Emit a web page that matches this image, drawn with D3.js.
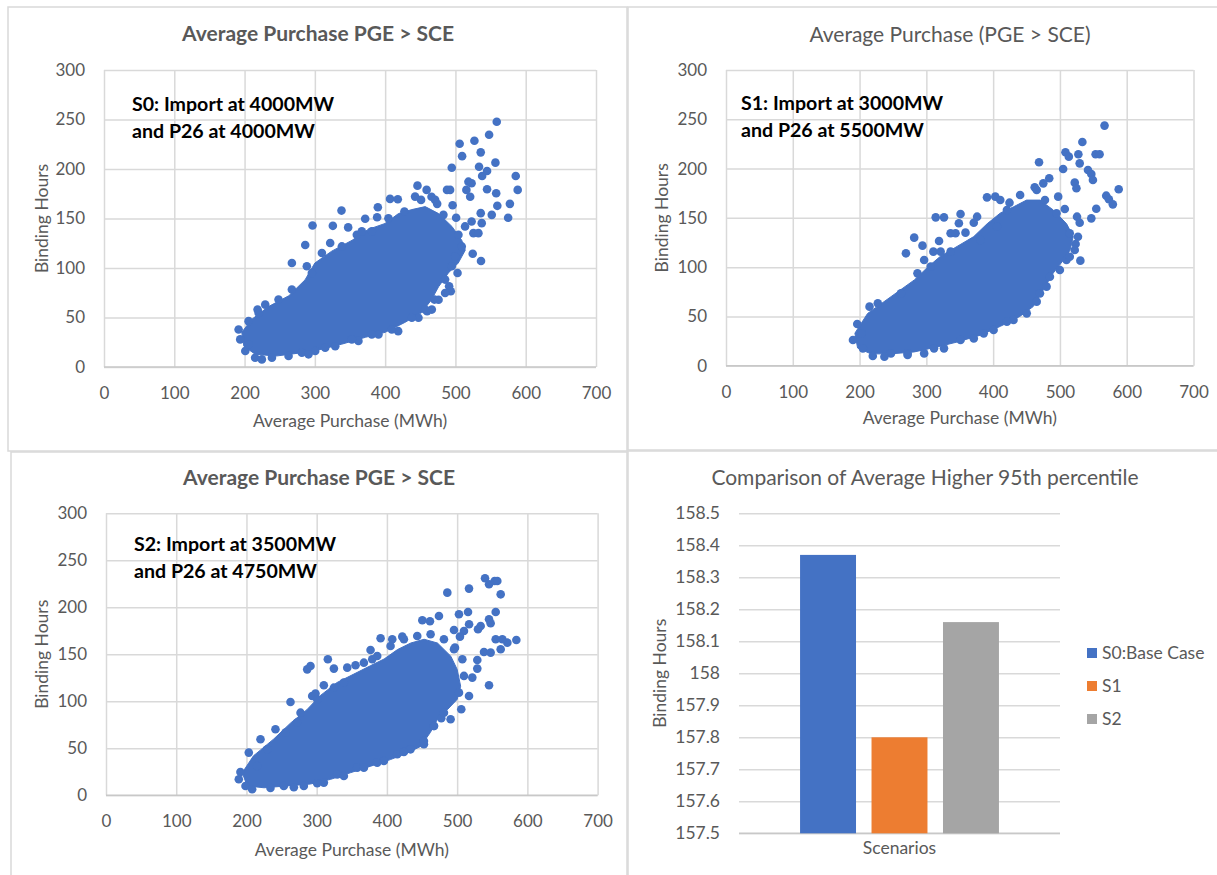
<!DOCTYPE html>
<html>
<head>
<meta charset="utf-8">
<script src="https://cdn.jsdelivr.net/npm/d3@7"></script>
<style>
  body { margin: 0; background: #fff; }
  text { font-family: Lato, "Open Sans", sans-serif; }
</style>
</head>
<body>
<svg id="chart" width="1217" height="875"></svg>
<script>
// ---- data ----
const xTicks = [0, 100, 200, 300, 400, 500, 600, 700];
const yTicks = [0, 50, 100, 150, 200, 250, 300];

// dense core of each scatter (outline of the solid blob), [purchase, hours]
const s0Cloud = [[196,35],[210,48],[234,61],[263,72],[286,88],[300,105],[324,117],[353,128],[376,139],[400,145],[419,155],[438,159],[457,162],[476,155],[495,142],[509,128],[514,118],[504,105],[490,95],[476,81],[466,68],[452,55],[428,45],[400,35],[372,30],[338,23],[310,18],[277,14],[244,11],[215,13],[199,21]];
const s1Cloud = [[193,33],[212,53],[247,70],[282,87],[302,100],[321,111],[346,121],[371,131],[391,144],[411,155],[430,161],[450,168],[470,168],[490,158],[510,144],[520,131],[515,117],[505,107],[490,94],[475,77],[460,60],[440,50],[411,40],[381,31],[346,24],[316,19],[282,14],[247,12],[217,12],[197,18]];
const s2Cloud = [[194,24],[210,42],[239,60],[263,77],[286,91],[305,106],[329,120],[353,129],[377,138],[396,145],[415,155],[434,162],[453,166],[472,162],[491,148],[500,134],[505,116],[500,102],[486,91],[472,81],[462,67],[448,52],[429,45],[405,38],[377,31],[348,24],[320,17],[291,12],[258,10],[225,8],[201,10]];

// single visible points around the core
const s0Points = [[558.8,247.7],[547.9,234.6],[527,228.5],[506,225.5],[509.5,213],[536,216.8],[494.8,201.3],[533.6,202.3],[538,193],[545,198],[556.9,206.4],[585.8,193],[588.6,178.9],[518.5,187.2],[523,185.6],[515.6,178.9],[521,172],[545,179.5],[558,175.5],[559.6,162.8],[577.5,164.8],[575,150.7],[488,178.9],[492.4,178.9],[496,163.4],[501,150.7],[446,183.2],[459,178.9],[466,172],[474,164.8],[407,169.8],[418,169.5],[389.6,161.4],[337.9,158],[371.6,149.7],[388.6,151.3],[296.7,143],[325.6,142.6],[347.4,141],[286.3,123.2],[267.3,105],[523,147],[537.4,145.3],[551.7,153.7],[536,155.4],[513.7,142],[525.6,135.2],[532.7,135.2],[524.6,114.4],[536.4,107],[503,95],[491,81.5],[493.4,76.5],[476,68],[459.7,56.4],[418.5,36.2],[191.5,37.9],[193.8,27.9],[205.7,46.3],[218.5,58],[229.4,63],[201,16.1],[215,9.4],[238.9,9.4],[281.5,14.4],[300.5,16.1],[329,21],[362,26.2],[390.5,32.9],[447.4,49.7],[466.4,58],[485.3,74.8],[310,115.1],[321.8,125.2],[338.4,121.8],[359.7,133.6],[366.8,137],[381,137],[404.7,150.3],[427.4,157],[451.1,168.8],[442.6,172.1],[471.1,168.8],[482.9,153.7],[504.3,133.6],[509,121.8],[499.5,111.7],[494.8,101.7],[485.3,88.3],[470.1,68.1],[456.9,58],[438,49.7],[409.5,37.9],[381,32.9],[352.6,27.9],[314.7,19.5],[291,12.8],[262.6,11.1],[224.6,7.7],[205.7,22.8],[219.9,54.7],[248.3,68.1],[267.3,78.2],[288.6,101.7],[295.7,95]];
const s1Points = [[566.8,243.6],[533.6,227],[508.3,216.5],[513.3,212.1],[527.6,214.5],[553.4,214.5],[559.4,214.5],[468.7,206.4],[529.6,205.3],[504.8,199.6],[542,198.6],[547,194.5],[549.4,188.4],[522.2,185.7],[524.7,180],[588,179],[569.3,172.5],[573.3,168.8],[579.2,163.7],[554.4,159.3],[484,190.1],[475.1,185],[462.2,181],[497.4,171.5],[507.3,159],[525.6,151.2],[547,149.5],[529.6,145.1],[527,130.9],[523.5,123.5],[530.6,106.6],[390.8,170.8],[403.2,171.5],[410.7,168.1],[424.5,165.4],[314,150.5],[326.4,150.5],[351.2,153.9],[376,151.2],[348.7,144.5],[371,145.1],[281.8,129.9],[294.2,121.8],[319,126.5],[336.3,134.3],[343.7,134.3],[358.6,135],[269.4,114],[310.5,115.7],[321.4,115.7],[190.1,26],[196.5,42.3],[214.9,59.9],[219.8,9.8],[205,17.6],[247,12.5],[271.9,12.5],[296.7,12.5],[326.4,17.6],[371,27.7],[400.7,36.2],[430.5,46.3],[450.3,53.1],[470.1,73.4],[485,90.3],[509.8,107.2],[306.6,100.5],[336.3,115.7],[380.9,127.5],[405.7,141.1],[420.6,158],[440.4,173.2],[465.2,178.3],[477.6,168.1],[494.9,154.6],[514.7,134.3],[522.2,117.4],[514.7,110.6],[499.9,97.1],[480,80.2],[465.2,65],[420.6,44.7],[385.9,32.8],[351.2,26],[311.5,17.6],[271.9,10.8],[237.2,9.1],[202.5,32.8],[227.3,63.3],[262,73.4],[286.7,93.7],[296.7,107.2]];
const s2Points = [[539.7,230.9],[545.4,224.5],[553.4,228],[557.2,228],[562,213.8],[486,215.6],[516.9,219.9],[554.9,195],[545.4,187.2],[547.7,183],[533.5,180.1],[529.7,176.6],[515.5,195],[517,182],[502.6,192.6],[474.1,190.8],[450.4,186.2],[461.3,185.1],[495.5,175.9],[509.7,174.8],[504,168.8],[584.3,165.2],[571.5,162.4],[564.4,166],[554.9,166],[538.2,152.5],[547.7,151.8],[562,155.3],[496.9,157.1],[528.7,144],[528.7,134.8],[545.4,117],[521.6,125.2],[516.9,105.7],[505.9,91.5],[490.7,80.9],[477.4,81.9],[391,167],[407.6,166],[421.9,168.8],[376.7,154.6],[379.1,144.7],[315.9,144.7],[286.5,134],[291.2,137.6],[324.5,134.8],[343.5,135.8],[355.3,138.3],[310.2,117],[293.6,105.7],[298.3,108.2],[262.7,99.3],[241.3,70.2],[220,59.6],[203.3,45.4],[191.4,24.8],[198.6,9.9],[253.2,9.9],[281.7,9.9],[310.2,13.5],[329.2,22.3],[357.7,29.4],[386.2,34.8],[414.7,43.6],[433.7,48.9],[452.7,54.3],[467,73.8],[277,87.9],[300.7,102.1],[324.5,114.5],[338.7,119.9],[367.2,141.1],[386.2,148.2],[405.2,158.9],[424.2,166],[443.2,169.5],[462.2,171.3],[481.2,166],[495.5,155.3],[507.4,144.7],[509.7,127],[502.6,109.2],[481.2,87.9],[467,73.8],[452.7,57.8],[424.2,46.1],[395.7,36.5],[367.2,29.4],[338.7,20.6],[300.7,12.8],[267.5,8.5],[234.2,7.8],[208.1,6.4],[189.1,17],[215.2,31.2],[229.5,48.9],[255.6,66.7],[272.2,77.3]];

// bar chart
const scenarios = ["S0:Base Case", "S1", "S2"];
const higher95 = [158.37, 157.80, 158.16];
const barTicks = [157.5, 157.6, 157.7, 157.8, 157.9, 158, 158.1, 158.2, 158.3, 158.4, 158.5];
const barColors = ["#4472C4", "#ED7D31", "#A5A5A5"];

// ---- drawing ----
const svg = d3.select("#chart");
const grid = "#d9d9d9";
const gray = "#595959";
const dotColor = "#4472C4";
const tickSize = "17px";
const labelSize = "17.5px";

// panel frames
const frames = [
  [8, 7, 619, 444],
  [628, 7, 600, 443],
  [11, 452, 616, 430],
  [628, 451, 600, 430]
];
svg.selectAll(".frame").data(frames).join("rect")
  .attr("class", "frame")
  .attr("x", d => d[0]).attr("y", d => d[1])
  .attr("width", d => d[2]).attr("height", d => d[3])
  .attr("fill", "none").attr("stroke", grid).attr("stroke-width", 1.5);

function scatter(box, title, bold, note, cloud, points){
  const x = d3.scaleLinear().domain([0, 700]).range([box.left, box.right]);
  const y = d3.scaleLinear().domain([0, 300]).range([box.bottom, box.top]);
  const g = svg.append("g");

  const yAxis = d3.axisLeft(y).tickValues(yTicks).tickSize(-(box.right - box.left)).tickPadding(19);
  const xAxis = d3.axisBottom(x).tickValues(xTicks).tickSize(-(box.bottom - box.top)).tickPadding(20);

  g.append("g").attr("transform", `translate(${box.left},0)`).call(yAxis);
  g.append("g").attr("transform", `translate(0,${box.bottom})`).call(xAxis);
  g.selectAll(".domain").remove();
  g.selectAll(".tick line").attr("stroke", grid).attr("stroke-width", 1.5);
  g.selectAll(".tick text").attr("fill", gray).style("font-size", tickSize);

  g.append("line")
    .attr("x1", box.left).attr("x2", box.right)
    .attr("y1", y(0)).attr("y2", y(0))
    .attr("stroke", "#c8c8c8").attr("stroke-width", 1.5);

  const line = d3.line().x(d => x(d[0])).y(d => y(d[1])).curve(d3.curveLinearClosed);
  g.append("path").datum(cloud)
    .attr("d", line)
    .attr("fill", dotColor).attr("stroke", dotColor).attr("stroke-width", 1);

  g.selectAll("circle").data(points).join("circle")
    .attr("cx", d => x(d[0])).attr("cy", d => y(d[1]))
    .attr("r", 4.3).attr("fill", dotColor);

  g.append("text")
    .attr("x", box.titleX).attr("y", box.titleY)
    .attr("text-anchor", "middle").attr("dy", "0.35em")
    .attr("fill", gray).style("font-size", "21px")
    .style("font-weight", bold ? "bold" : "normal")
    .text(title);

  g.selectAll(".note").data(note).join("text")
    .attr("class", "note")
    .attr("x", box.noteX).attr("y", (d, i) => box.noteY + i * 27)
    .attr("dy", "0.35em")
    .attr("fill", "#000").style("font-size", "19.6px").style("font-weight", "bold")
    .text(d => d);

  g.append("text")
    .attr("x", (box.left + box.right) / 2).attr("y", box.xTitleY)
    .attr("text-anchor", "middle").attr("dy", "0.35em")
    .attr("fill", gray).style("font-size", labelSize)
    .text("Average Purchase (MWh)");

  g.append("text")
    .attr("transform", `translate(${box.yTitleX},${(box.top + box.bottom) / 2}) rotate(-90)`)
    .attr("text-anchor", "middle").attr("dy", "0.35em")
    .attr("fill", gray).style("font-size", labelSize)
    .text("Binding Hours");
}

scatter({left: 104, right: 596, top: 70, bottom: 367, titleX: 318, titleY: 34, noteX: 132, noteY: 104, xTitleY: 421, yTitleX: 42},
  "Average Purchase PGE > SCE", true,
  ["S0: Import at 4000MW", "and P26 at 4000MW"], s0Cloud, s0Points);

scatter({left: 726, right: 1193.5, top: 70, bottom: 365.7, titleX: 950, titleY: 35, noteX: 741, noteY: 103, xTitleY: 418, yTitleX: 662},
  "Average Purchase (PGE > SCE)", false,
  ["S1: Import at 3000MW", "and P26 at 5500MW"], s1Cloud, s1Points);

scatter({left: 106, right: 597.6, top: 513.3, bottom: 795.3, titleX: 319, titleY: 478, noteX: 134, noteY: 544, xTitleY: 850, yTitleX: 42},
  "Average Purchase PGE > SCE", true,
  ["S2: Import at 3500MW", "and P26 at 4750MW"], s2Cloud, s2Points);

// ---- bar panel ----
const bar = {left: 739, right: 1060, top: 513.3, bottom: 833.3};
const yb = d3.scaleLinear().domain([157.5, 158.5]).range([bar.bottom, bar.top]);
const xb0 = d3.scaleBand().domain(["Scenarios"]).range([bar.left, bar.right]).paddingOuter(0.307);
const xb1 = d3.scaleBand().domain(scenarios).range([0, xb0.bandwidth()]).paddingInner(0.217).paddingOuter(0);
const gb = svg.append("g");

gb.append("g").attr("transform", `translate(${bar.left},0)`)
  .call(d3.axisLeft(yb).tickValues(barTicks).tickSize(-(bar.right - bar.left)).tickPadding(19)
    .tickFormat(d => String(+d.toFixed(1))));
gb.selectAll(".domain").remove();
gb.selectAll(".tick line").attr("stroke", grid).attr("stroke-width", 1.5);
gb.selectAll(".tick text").attr("fill", gray).style("font-size", "17.5px");
gb.append("line")
  .attr("x1", bar.left).attr("x2", bar.right)
  .attr("y1", yb(157.5)).attr("y2", yb(157.5))
  .attr("stroke", "#c8c8c8").attr("stroke-width", 1.5);

gb.selectAll(".bar").data(scenarios).join("rect")
  .attr("class", "bar")
  .attr("x", d => xb0("Scenarios") + xb1(d))
  .attr("width", xb1.bandwidth())
  .attr("y", (d, i) => yb(higher95[i]))
  .attr("height", (d, i) => yb(157.5) - yb(higher95[i]))
  .attr("fill", (d, i) => barColors[i]);

gb.append("text")
  .attr("x", 925).attr("y", 478).attr("text-anchor", "middle").attr("dy", "0.35em")
  .attr("fill", gray).style("font-size", "21px")
  .text("Comparison of Average Higher 95th percentile");

gb.append("text")
  .attr("x", (bar.left + bar.right) / 2).attr("y", 848).attr("text-anchor", "middle").attr("dy", "0.35em")
  .attr("fill", gray).style("font-size", labelSize)
  .text("Scenarios");

gb.append("text")
  .attr("transform", `translate(660,${(bar.top + bar.bottom) / 2}) rotate(-90)`)
  .attr("text-anchor", "middle").attr("dy", "0.35em")
  .attr("fill", gray).style("font-size", labelSize)
  .text("Binding Hours");

const legend = gb.selectAll(".legend").data(scenarios).join("g")
  .attr("class", "legend")
  .attr("transform", (d, i) => `translate(1087,${653 + i * 33})`);
legend.append("rect").attr("x", 0).attr("y", -5).attr("width", 10).attr("height", 10)
  .attr("fill", (d, i) => barColors[i]);
legend.append("text").attr("x", 15).attr("dy", "0.35em")
  .attr("fill", gray).style("font-size", "17.5px")
  .text(d => d);
</script>
</body>
</html>
